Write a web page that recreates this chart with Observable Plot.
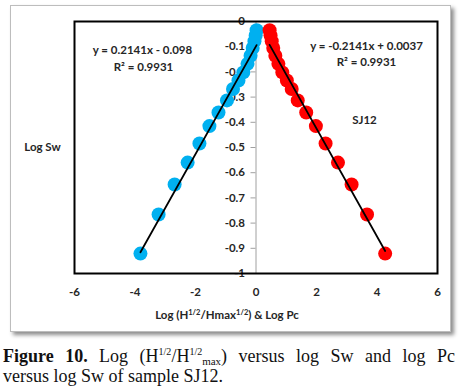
<!DOCTYPE html>
<html>
<head>
<meta charset="utf-8">
<script src="https://cdn.jsdelivr.net/npm/d3@7"></script>
<script src="https://cdn.jsdelivr.net/npm/@observablehq/plot@0.6"></script>
<style>
  html, body { margin: 0; padding: 0; background: #fff; }
  #wrap { position: relative; width: 462px; height: 391px; overflow: hidden; }
  #box { position: absolute; left: 10px; top: 5px; width: 439px; height: 325px;
         border: 1px solid #bdbdbd; box-shadow: 3px 3px 4px rgba(0,0,0,0.45); background: #fff; }
  #chart { position: absolute; left: 0; top: 0; }
  .lbl { position: absolute; font-family: Lato, "Open Sans", sans-serif; font-weight: bold;
         font-size: 11.5px; color: #262626; white-space: nowrap; }
  .lbl sup { font-size: 7.5px; vertical-align: 4px; line-height: 0; }
  #xtitle { left: 0; width: 454px; text-align: center; top: 308px; }
  #caption { position: absolute; left: 3px; top: 346px; width: 452px;
             font-family: "Liberation Serif", "Times New Roman", serif; font-size: 18px;
             line-height: 20px; color: #111; }
  #caption .l1 { text-align: justify; text-align-last: justify; }
  #caption .sup { font-size: 10px; vertical-align: 7px; line-height: 0; }
  #caption .sub { font-size: 11px; vertical-align: -3px; line-height: 0; }
</style>
</head>
<body>
<div id="wrap">
  <div id="box"></div>
  <div id="chart"></div>
  <div id="xtitle" class="lbl">Log (H<sup>1/2</sup>/Hmax<sup>1/2</sup>) &amp; Log Pc</div>
  <div id="caption"><div class="l1"><b>Figure 10.</b> Log (H<span class="sup">1/2</span>/H<span class="sup">1/2</span><span class="sub">max</span>) versus log Sw and log Pc</div><div class="l2">versus log Sw of sample SJ12.</div></div>
</div>
<script>
// Blue series: Log(H^1/2 / Hmax^1/2) vs Log Sw
const blueX = [-3.82, -3.22, -2.69, -2.26, -1.87, -1.54, -1.24, -0.96, -0.76, -0.58, -0.42, -0.28, -0.18, -0.11, -0.05, -0.01, 0.02];
const blueY = [-0.921, -0.766, -0.647, -0.560, -0.484, -0.415, -0.361, -0.313, -0.268, -0.234, -0.202, -0.168, -0.136, -0.105, -0.078, -0.055, -0.035];
// Red series: Log Pc vs Log Sw
const redX = [4.27, 3.67, 3.16, 2.71, 2.30, 1.98, 1.66, 1.38, 1.18, 1.02, 0.87, 0.74, 0.64, 0.57, 0.52, 0.48, 0.45];
const redY = [-0.921, -0.766, -0.647, -0.560, -0.484, -0.415, -0.361, -0.313, -0.268, -0.234, -0.202, -0.168, -0.136, -0.105, -0.078, -0.055, -0.035];
// Linear fits
const fitSlopes = [0.2141, -0.2141];
const fitIntercepts = [-0.098, 0.0037];
const fitLabels = ["y = 0.2141x - 0.098", "y = -0.2141x + 0.0037"];
const r2Labels = ["R² = 0.9931", "R² = 0.9931"];
const sampleLabel = ["SJ12"];
const yTitle = ["Log Sw"];
// Axes
const xTicks = [-6, -4, -2, 0, 2, 4, 6];
const yTicks = [0, -0.1, -0.2, -0.3, -0.4, -0.5, -0.6, -0.7, -0.8, -0.9, -1];
const yTickLabels = ["0", "-0.1", "-0.2", "-0.3", "-0.4", "-0.5", "-0.6", "-0.7", "-0.8", "-0.9", "-1"];

const blue = blueX.map((x, i) => ({x, y: blueY[i]}));
const red = redX.map((x, i) => ({x, y: redY[i]}));
const fitLine = (xs, k) => {
  const [a, b] = d3.extent(xs);
  return [a, b].map(x => ({x, y: fitSlopes[k] * x + fitIntercepts[k]}));
};
const yT = yTicks.map((v, i) => ({v, t: yTickLabels[i]}));
const font = "Lato, 'Open Sans', sans-serif";
const txt = {fontFamily: font, fontWeight: "bold", fontSize: 11.5, fill: "#262626"};

const chart = Plot.plot({
  width: 462, height: 335,
  marginLeft: 74, marginRight: 25, marginTop: 21, marginBottom: 62,
  x: {domain: [-6, 6], axis: null},
  y: {domain: [-1, 0], axis: null},
  style: {background: "transparent", overflow: "visible"},
  marks: [
    Plot.ruleX([0], {stroke: "#a0a0a0", strokeWidth: 1}),
    Plot.ruleY(yTicks, {y: d => d, x1: 0, x2: 0, insetLeft: -5, stroke: "#a0a0a0"}),
    Plot.text(yT, {x: 0, y: "v", text: "t", textAnchor: "end", dx: -11, ...txt}),
    Plot.text(xTicks, {x: d => d, y: -1, text: d => String(d), dy: 19, ...txt}),
    Plot.dot(blue, {x: "x", y: "y", r: 7, fill: "#00b0f0"}),
    Plot.dot(red, {x: "x", y: "y", r: 7, fill: "#ff0000"}),
    Plot.line(fitLine(blueX, 0), {x: "x", y: "y", stroke: "#000", strokeWidth: 1.8}),
    Plot.line(fitLine(redX, 1), {x: "x", y: "y", stroke: "#000", strokeWidth: 1.8}),
    Plot.frame({stroke: "#000", strokeWidth: 2}),
    Plot.text([fitLabels[0]], {frameAnchor: "top-left", dx: 68, dy: 24, text: d => d, textAnchor: "middle", ...txt}),
    Plot.text([r2Labels[0]], {frameAnchor: "top-left", dx: 69, dy: 41, text: d => d, textAnchor: "middle", ...txt}),
    Plot.text([fitLabels[1]], {frameAnchor: "top-left", dx: 292, dy: 20, text: d => d, textAnchor: "middle", ...txt}),
    Plot.text([r2Labels[1]], {frameAnchor: "top-left", dx: 292, dy: 36, text: d => d, textAnchor: "middle", ...txt}),
    Plot.text(sampleLabel, {frameAnchor: "top-left", dx: 290, dy: 94, text: d => d, textAnchor: "middle", ...txt}),
    Plot.text(yTitle, {frameAnchor: "left", dx: -32, text: d => d, textAnchor: "middle", ...txt})
  ]
});
document.getElementById("chart").appendChild(chart);
</script>
</body>
</html>
